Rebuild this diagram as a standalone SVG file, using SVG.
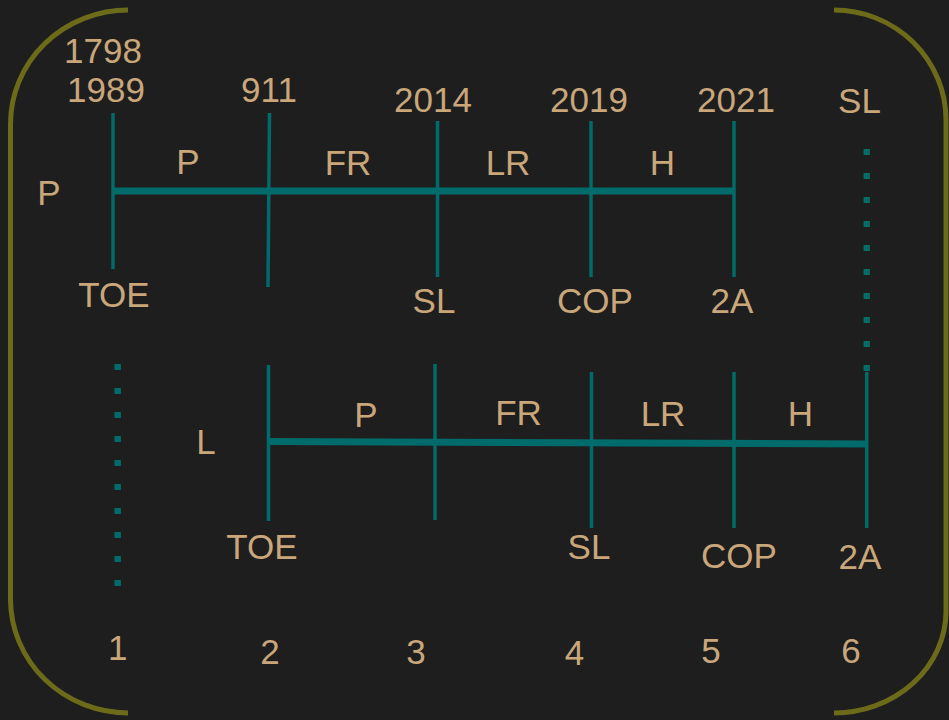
<svg xmlns="http://www.w3.org/2000/svg" width="949" height="720" viewBox="0 0 949 720">
<style>
.bg{fill:#1e1e1e}
.br{fill:none;stroke:#6b6b1a;stroke-width:5}
.tk{stroke:#006b6b;stroke-width:3.5;fill:none}
.ax{stroke:#006b6b;stroke-width:7;fill:none}
.dot{stroke:#006b6b;stroke-width:6.5;stroke-dasharray:6 18;fill:none}
text{font-family:"Liberation Sans",Arial,sans-serif;font-size:35px;fill:#c9a77b;text-anchor:middle}
</style>
<rect class="bg" width="949" height="720"/>
<g id="brackets">
<path class="br" d="M128,10 A118,114 0 0 0 10.5,124 L10.5,600 A118,114 0 0 0 128,713"/>
<path class="br" d="M834,10 A112,110 0 0 1 946,120 L946,612 A112,102 0 0 1 834,713"/>
</g>
<g id="connectors">
<line class="ax" x1="114" y1="191" x2="735" y2="191"/>
<line class="ax" x1="268" y1="441.5" x2="867" y2="444"/>
<line class="dot" x1="866.7" y1="149" x2="866.7" y2="372"/>
<line class="dot" x1="117.7" y1="364" x2="117.7" y2="590"/>
</g>
<g id="row1">
<g id="t1"><line class="tk" x1="113" y1="113" x2="113" y2="269"/><text x="103" y="63">1798</text><text x="106" y="102">1989</text><text x="114" y="307">TOE</text></g>
<g id="t2"><line class="tk" x1="269.5" y1="113" x2="268" y2="287"/><text x="269" y="102">911</text></g>
<g id="t3"><line class="tk" x1="437.5" y1="121" x2="437.5" y2="277"/><text x="433" y="112">2014</text><text x="434" y="313">SL</text></g>
<g id="t4"><line class="tk" x1="591" y1="121" x2="591" y2="277"/><text x="589" y="112">2019</text><text x="595" y="313">COP</text></g>
<g id="t5"><line class="tk" x1="734" y1="121" x2="734" y2="277"/><text x="736" y="112">2021</text><text x="732" y="313">2A</text></g>
<g id="t6"><text x="859.5" y="113">SL</text></g>
<g id="s1"><text x="188" y="174">P</text></g>
<g id="s2"><text x="348" y="175">FR</text></g>
<g id="s3"><text x="508" y="175">LR</text></g>
<g id="s4"><text x="662.5" y="175">H</text></g>
<g id="rowP"><text x="49" y="205">P</text></g>
</g>
<g id="row2">
<g id="b2"><line class="tk" x1="268.5" y1="365" x2="268.5" y2="521"/><text x="262" y="559">TOE</text></g>
<g id="b3"><line class="tk" x1="435" y1="364" x2="435" y2="520"/></g>
<g id="b4"><line class="tk" x1="591.5" y1="372" x2="591.5" y2="528"/><text x="589" y="559">SL</text></g>
<g id="b5"><line class="tk" x1="734" y1="372" x2="734" y2="528"/><text x="739" y="568">COP</text></g>
<g id="b6"><line class="tk" x1="866.7" y1="372" x2="866.7" y2="528"/><text x="860" y="569">2A</text></g>
<g id="q1"><text x="366" y="427">P</text></g>
<g id="q2"><text x="518.5" y="425">FR</text></g>
<g id="q3"><text x="663" y="426">LR</text></g>
<g id="q4"><text x="800.5" y="426">H</text></g>
<g id="rowL"><text x="206" y="454">L</text></g>
</g>
<g id="numbers">
<text x="117.7" y="660">1</text>
<text x="270" y="664">2</text>
<text x="416" y="664">3</text>
<text x="574.5" y="665">4</text>
<text x="711" y="663">5</text>
<text x="851" y="663">6</text>
</g>
</svg>
